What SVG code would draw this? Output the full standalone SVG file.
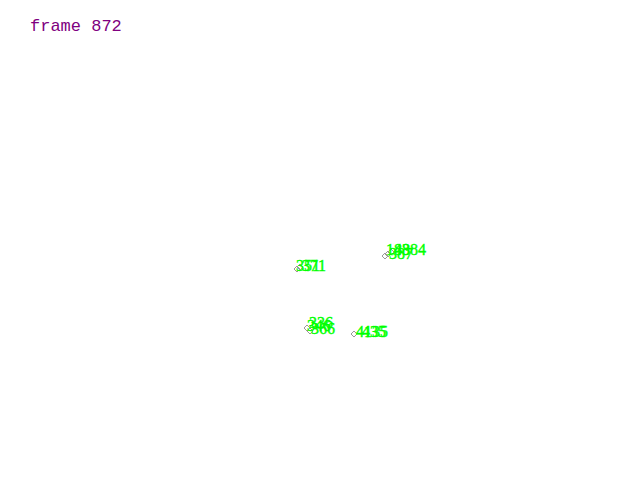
<svg xmlns="http://www.w3.org/2000/svg" width="640" height="480" viewBox="0 0 640 480">
<style>
.t{font-family:"Liberation Mono","Courier New",monospace;font-size:17px;fill:#800080}
.l{font-family:"Liberation Serif","Times New Roman",serif;font-size:16px;fill:#00ff00;stroke:#00ff00;stroke-width:0.4}
.d{fill:none;stroke:#999999;stroke-width:1}
</style>
<defs>
<path id="dm" d="M0,-3 L3,0 L0,3 L-3,0 Z"/>
</defs>
<rect width="640" height="480" fill="#ffffff"/>
<text class="t" x="30" y="31">frame 872</text>
<g id="connectors"></g>
<g id="n1">
<use href="#dm" class="d" x="385" y="256"/>
<use href="#dm" class="d" x="388" y="254"/>
<use href="#dm" class="d" x="391" y="252"/>
<text class="l" x="386" y="255">188</text>
<text class="l" x="394" y="255">4384</text>
<text class="l" x="389" y="259">387</text>
</g>
<g id="n2">
<use href="#dm" class="d" x="297" y="269"/>
<use href="#dm" class="d" x="300" y="267"/>
<text class="l" x="296" y="271">351</text>
<text class="l" x="302" y="271">371</text>
</g>
<g id="n3">
<use href="#dm" class="d" x="307" y="328"/>
<use href="#dm" class="d" x="310" y="331"/>
<text class="l" x="307" y="331">346</text>
<text class="l" x="311" y="334">366</text>
<text class="l" x="309" y="328">336</text>
</g>
<g id="n4">
<use href="#dm" class="d" x="354" y="334"/>
<text class="l" x="356" y="337">4135</text>
<text class="l" x="362" y="337">435</text>
</g>
</svg>
